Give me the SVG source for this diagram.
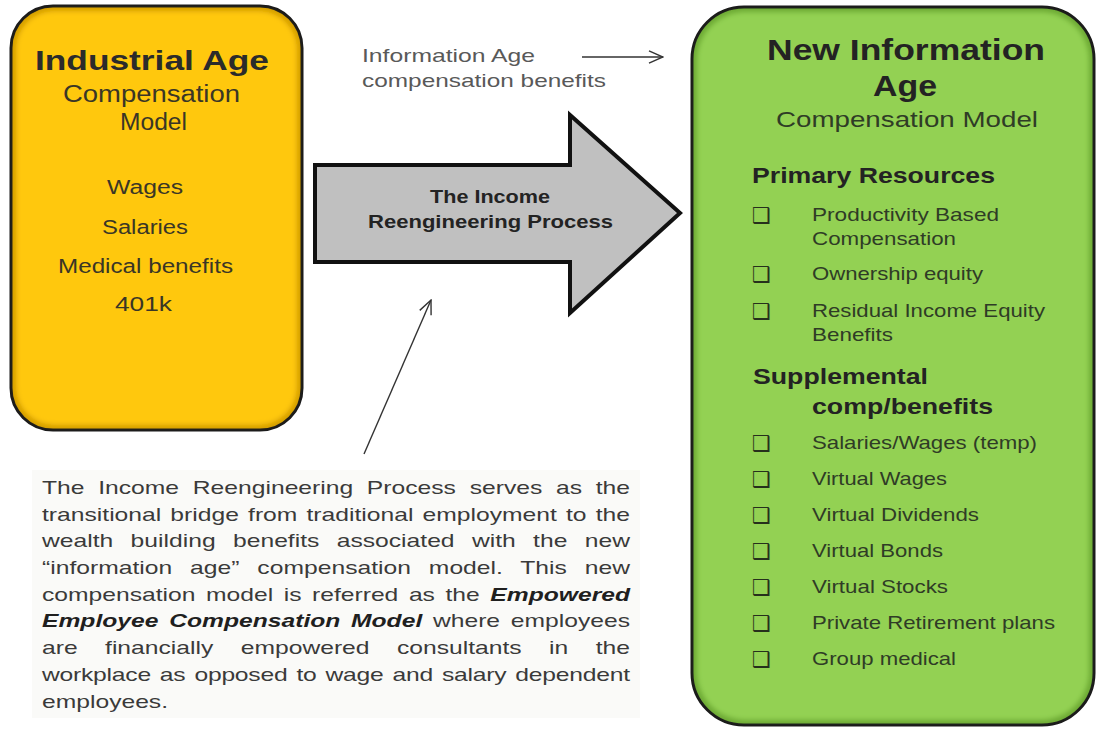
<svg xmlns="http://www.w3.org/2000/svg" width="1098" height="729" viewBox="0 0 1098 729">
<style>
.t{font-family:"Liberation Sans",Arial,sans-serif}
.b{font-weight:bold}
.bi{font-weight:bold;font-style:italic;fill:#1f1f1f}
.yt{fill:#2b2b2b}
.yi{fill:#3a3626}
.gt{fill:#232323}
.gi{fill:#2f3c26}
.body{fill:#3a3a3a;font-size:18px}
.bul{font-family:"DejaVu Sans",sans-serif;font-size:22px;fill:#26301c}
.conn{stroke:#333;stroke-width:1.4;fill:none}
</style>
<defs>
<filter id="soft" x="-5%" y="-5%" width="110%" height="110%"><feGaussianBlur stdDeviation="2.5"/></filter>
<marker id="open" viewBox="0 0 16 14" refX="15" refY="7" markerWidth="16" markerHeight="14" markerUnits="userSpaceOnUse" orient="auto">
<path d="M1,0.8 L15,7 L1,13.2" fill="none" stroke="#333" stroke-width="1.4"/>
</marker>
</defs>
<rect width="1098" height="729" fill="#ffffff"/>

<g id="industrial-age">
<rect x="11" y="6" width="291" height="424" rx="42" fill="#D49E00" stroke="#1a1a1a" stroke-width="3"/>
<rect x="16" y="11" width="281" height="414" rx="38" fill="#FFC80C" filter="url(#soft)"/>
<text class="t b yt" x="35" y="70" font-size="28" textLength="234" lengthAdjust="spacingAndGlyphs">Industrial Age</text>
<text class="t yi" x="63" y="102" font-size="23" textLength="177" lengthAdjust="spacingAndGlyphs">Compensation</text>
<text class="t yi" x="120" y="130" font-size="23" textLength="67" lengthAdjust="spacingAndGlyphs">Model</text>
<text class="t yi" x="107" y="194" font-size="20" textLength="76" lengthAdjust="spacingAndGlyphs">Wages</text>
<text class="t yi" x="102" y="234" font-size="20" textLength="86" lengthAdjust="spacingAndGlyphs">Salaries</text>
<text class="t yi" x="58" y="273" font-size="20" textLength="175" lengthAdjust="spacingAndGlyphs">Medical benefits</text>
<text class="t yi" x="115" y="311" font-size="20" textLength="57" lengthAdjust="spacingAndGlyphs">401k</text>
</g>

<g id="information-age">
<rect x="692" y="7" width="402" height="718" rx="52" fill="#6DAA34" stroke="#1a1a1a" stroke-width="3"/>
<rect x="697" y="12" width="392" height="708" rx="48" fill="#93D152" filter="url(#soft)"/>
<text class="t b gt" x="767" y="60" font-size="30" textLength="278" lengthAdjust="spacingAndGlyphs">New Information</text>
<text class="t b gt" x="873" y="96" font-size="30" textLength="64" lengthAdjust="spacingAndGlyphs">Age</text>
<text class="t gi" x="776" y="127" font-size="22" textLength="262" lengthAdjust="spacingAndGlyphs">Compensation Model</text>
<text class="t b gt" x="752" y="183" font-size="22" textLength="243" lengthAdjust="spacingAndGlyphs">Primary Resources</text>
<text class="bul" x="752" y="223" textLength="19" lengthAdjust="spacingAndGlyphs">❑</text>
<text class="t gi" x="812" y="221" font-size="19" textLength="187" lengthAdjust="spacingAndGlyphs">Productivity Based</text>
<text class="t gi" x="812" y="245" font-size="19" textLength="144" lengthAdjust="spacingAndGlyphs">Compensation</text>
<text class="bul" x="752" y="282" textLength="19" lengthAdjust="spacingAndGlyphs">❑</text>
<text class="t gi" x="812" y="280" font-size="19" textLength="171" lengthAdjust="spacingAndGlyphs">Ownership equity</text>
<text class="bul" x="752" y="319" textLength="19" lengthAdjust="spacingAndGlyphs">❑</text>
<text class="t gi" x="812" y="317" font-size="19" textLength="233" lengthAdjust="spacingAndGlyphs">Residual Income Equity</text>
<text class="t gi" x="812" y="341" font-size="19" textLength="81" lengthAdjust="spacingAndGlyphs">Benefits</text>
<text class="t b gt" x="753" y="384" font-size="22" textLength="175" lengthAdjust="spacingAndGlyphs">Supplemental</text>
<text class="t b gt" x="812" y="414" font-size="22" textLength="181" lengthAdjust="spacingAndGlyphs">comp/benefits</text>
<text class="bul" x="752" y="451" textLength="19" lengthAdjust="spacingAndGlyphs">❑</text>
<text class="t gi" x="812" y="449" font-size="19" textLength="225" lengthAdjust="spacingAndGlyphs">Salaries/Wages (temp)</text>
<text class="bul" x="752" y="487" textLength="19" lengthAdjust="spacingAndGlyphs">❑</text>
<text class="t gi" x="812" y="485" font-size="19" textLength="135" lengthAdjust="spacingAndGlyphs">Virtual Wages</text>
<text class="bul" x="752" y="523" textLength="19" lengthAdjust="spacingAndGlyphs">❑</text>
<text class="t gi" x="812" y="521" font-size="19" textLength="167" lengthAdjust="spacingAndGlyphs">Virtual Dividends</text>
<text class="bul" x="752" y="559" textLength="19" lengthAdjust="spacingAndGlyphs">❑</text>
<text class="t gi" x="812" y="557" font-size="19" textLength="131" lengthAdjust="spacingAndGlyphs">Virtual Bonds</text>
<text class="bul" x="752" y="595" textLength="19" lengthAdjust="spacingAndGlyphs">❑</text>
<text class="t gi" x="812" y="593" font-size="19" textLength="136" lengthAdjust="spacingAndGlyphs">Virtual Stocks</text>
<text class="bul" x="752" y="631" textLength="19" lengthAdjust="spacingAndGlyphs">❑</text>
<text class="t gi" x="812" y="629" font-size="19" textLength="243" lengthAdjust="spacingAndGlyphs">Private Retirement plans</text>
<text class="bul" x="752" y="667" textLength="19" lengthAdjust="spacingAndGlyphs">❑</text>
<text class="t gi" x="812" y="665" font-size="19" textLength="144" lengthAdjust="spacingAndGlyphs">Group medical</text>
</g>

<g id="process-arrow">
<polygon points="315,165 570,165 570,115 680,213 570,313 570,262 315,262" fill="#C0C0C0" stroke="#111" stroke-width="4" stroke-linejoin="miter"/>
<text class="t b gt" x="430" y="203" font-size="18" textLength="120" lengthAdjust="spacingAndGlyphs">The Income</text>
<text class="t b gt" x="368" y="228" font-size="18" textLength="245" lengthAdjust="spacingAndGlyphs">Reengineering Process</text>
</g>

<g id="info-label">
<text class="t" x="362" y="62" font-size="19" fill="#595959" textLength="173" lengthAdjust="spacingAndGlyphs">Information Age</text>
<text class="t" x="362" y="87" font-size="19" fill="#595959" textLength="244" lengthAdjust="spacingAndGlyphs">compensation benefits</text>
</g>

<g id="description">
<rect x="32" y="470" width="608" height="248" fill="#fafaf8"/>
<g transform="translate(42,0) scale(1.37,1)">
<text class="t body" x="0" y="494" word-spacing="5" textLength="429.2" lengthAdjust="spacing">The Income Reengineering Process serves as the</text>
<text class="t body" x="0" y="520.7" word-spacing="1.67" textLength="429.2" lengthAdjust="spacing">transitional bridge from traditional employment to the</text>
<text class="t body" x="0" y="547.4" word-spacing="7.67" textLength="429.2" lengthAdjust="spacing">wealth building benefits associated with the new</text>
<text class="t body" x="0" y="574.1" word-spacing="8" textLength="429.2" lengthAdjust="spacing">“information age” compensation model. This new</text>
<text class="t body" x="0" y="600.8" word-spacing="2.72" textLength="429.2" lengthAdjust="spacing">compensation model is referred as the <tspan class="bi">Empowered</tspan></text>
<text class="t body" x="0" y="627.5" word-spacing="2.78" textLength="429.2" lengthAdjust="spacing"><tspan class="bi">Employee Compensation Model</tspan> where employees</text>
<text class="t body" x="0" y="654.2" word-spacing="15" textLength="429.2" lengthAdjust="spacing">are financially empowered consultants in the</text>
<text class="t body" x="0" y="680.9" word-spacing="1.74" textLength="429.2" lengthAdjust="spacing">workplace as opposed to wage and salary dependent</text>
<text class="t body" x="0" y="707.6">employees.</text>
</g>
</g>

<g id="connectors">
<line class="conn" x1="582" y1="57" x2="663" y2="57" marker-end="url(#open)"/>
<line class="conn" x1="364" y1="454" x2="431" y2="300" marker-end="url(#open)"/>
</g>
</svg>
